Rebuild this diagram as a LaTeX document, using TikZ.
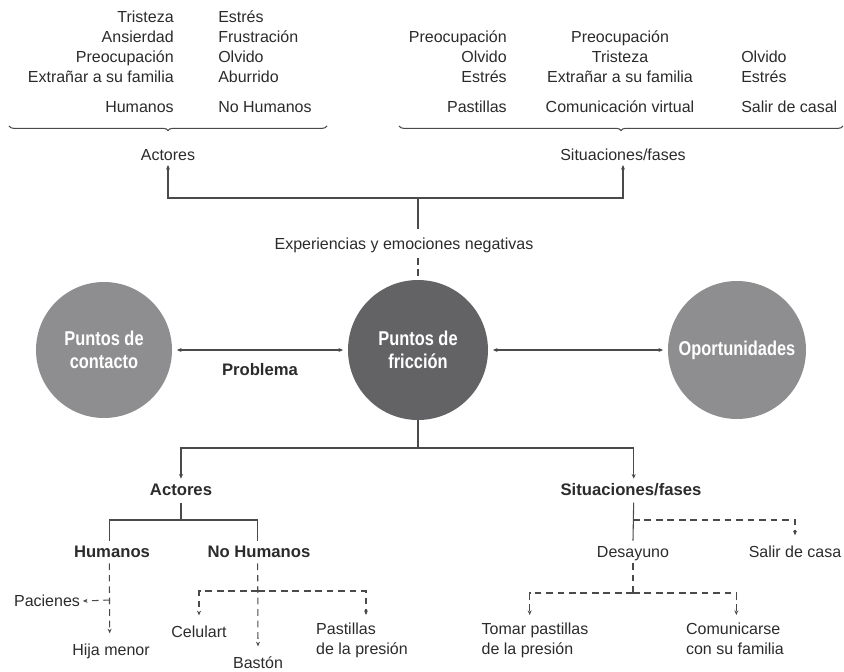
\documentclass[tikz,border=0pt]{standalone}
\usepackage{fontspec}
\setmainfont{Liberation Sans}
\newfontfamily\condbold[FakeStretch=0.82]{Liberation Sans Bold}
\usetikzlibrary{arrows.meta,decorations.pathreplacing}
\definecolor{tc}{HTML}{2B2B2B}
\definecolor{lc}{HTML}{4A4A4A}
\definecolor{darkc}{HTML}{636366}
\definecolor{lightc}{HTML}{8E8E90}
\tikzset{
  txt/.style={font=\fontsize{12}{15}\selectfont, text=tc, inner sep=0pt, text height=8.6pt, text depth=0pt},
  btxt/.style={txt, font=\fontsize{12.5}{15}\selectfont\bfseries},
  mtxt/.style={font=\fontsize{12}{15}\selectfont, text=tc, inner sep=0pt, align=left},
  ln/.style={draw=lc, line width=0.8pt},
  arr/.style={-{Stealth[length=3.5pt,width=3pt]}},
  darr/.style={{Stealth[length=3.5pt,width=3pt]}-{Stealth[length=3.5pt,width=3pt]}},
  dsh/.style={dash pattern=on 5pt off 3.6pt},
  bigc/.style={circle, draw=none, text=white, align=center, font=\fontsize{15}{17}\condbold, inner sep=0pt},
  brc/.style={ln, decorate, decoration={brace, amplitude=3.5pt}}
}
\begin{document}
\begin{tikzpicture}[x=0.75pt,y=-0.75pt]
\useasboundingbox (0,0) rectangle (844,672);
% ---------- top left group
\node[txt,anchor=east] (a1) at (174,17) {Tristeza};
\node[txt,anchor=east] (a2) at (174,37) {Ansierdad};
\node[txt,anchor=east] (a3) at (174,57) {Preocupación};
\node[txt,anchor=east] (a4) at (174,77) {Extrañar a su familia};
\node[txt,anchor=east] (ah) at (174,107) {Humanos};
\node[txt,anchor=west] (b1) at (218,17) {Estrés};
\node[txt,anchor=west] (b2) at (218,37) {Frustración};
\node[txt,anchor=west] (b3) at (218,57) {Olvido};
\node[txt,anchor=west] (b4) at (218,77) {Aburrido};
\node[txt,anchor=west] (bh) at (218,107) {No Humanos};
\coordinate (brL1) at (327,126);
\coordinate (brL2) at (9,126);
\draw[brc] (brL1) -- (brL2);
% ---------- top right group
\node[txt,anchor=east] (c1) at (507,37) {Preocupación};
\node[txt,anchor=east] (c2) at (507,57) {Olvido};
\node[txt,anchor=east] (c3) at (507,77) {Estrés};
\node[txt,anchor=east] (ch) at (507,107) {Pastillas};
\node[txt] (d1) at (620,37) {Preocupación};
\node[txt] (d2) at (620,57) {Tristeza};
\node[txt] (d3) at (620,77) {Extrañar a su familia};
\node[txt] (dh) at (620,107) {Comunicación virtual};
\node[txt,anchor=west] (e2) at (741,57) {Olvido};
\node[txt,anchor=west] (e3) at (741,77) {Estrés};
\node[txt,anchor=west] (eh) at (741,107) {Salir de casal};
\coordinate (brR1) at (843,126);
\coordinate (brR2) at (399,126);
\draw[brc] (brR1) -- (brR2);
% ---------- upper connectors
\node[txt] (act1) at (168,155) {Actores};
\node[txt] (sit1) at (623,155) {Situaciones/fases};
\node[txt] (exp) at (404,244) {Experiencias y emociones negativas};
\coordinate (j1) at (418,198);
\draw[ln] ([yshift=7pt]j1 |- exp.north) -- (j1);
\draw[ln,arr] (j1) -| ([yshift=-3pt]act1.south);
\draw[ln,arr] (j1) -| ([yshift=-3pt]sit1.south);
% ---------- circles
\node[bigc, fill=lightc, minimum size=102pt] (pc) at (104,350) {Puntos de\\contacto};
\node[bigc, fill=darkc, minimum size=105pt] (fric) at (418,350) {Puntos de\\fricción};
\node[bigc, fill=lightc, minimum size=103.5pt] (op) at (737,350) {Oportunidades};
\draw[ln,dsh] ([yshift=-6pt]j1 |- exp.south) -- (fric.north);
\draw[ln,darr,shorten <=3.5pt,shorten >=3.5pt] (pc.east) -- (fric.west);
\draw[ln,darr,shorten <=3.5pt,shorten >=3.5pt] (fric.east) -- (op.west);
\node[btxt] (prob) at (260,370) {Problema};
% ---------- lower tree
\node[btxt] (act2) at (181,490) {Actores};
\node[btxt] (sit2) at (631,490) {Situaciones/fases};
\coordinate (j2) at (418,448);
\draw[ln] (fric.south) -- (j2);
\draw[ln,arr] (j2) -| ([yshift=4pt]act2.north);
\draw[ln,arr] (j2) -| ([xshift=2pt,yshift=4pt]sit2.north);
% actores branch
\node[btxt] (hum) at (112,552) {Humanos};
\node[btxt] (nohum) at (259,552) {No Humanos};
\coordinate (j3) at (181,520);
\draw[ln] ([yshift=-5pt]act2.south) -- (j3);
\draw[ln] (j3) -| ([xshift=-2pt,yshift=4pt]hum.north);
\draw[ln] (j3) -| ([xshift=-1pt,yshift=4pt]nohum.north);
\node[txt] (hija) at (111,650) {Hija menor};
\node[txt] (pac) at (47,601) {Pacienes};
\coordinate (hd) at (110,600);
\draw[ln,dsh,arr] ([xshift=-2pt,yshift=-4pt]hum.south) -- ([xshift=-1pt,yshift=8pt]hija.north);
\draw[ln,dsh,arr] (hd) -- ([xshift=2pt]pac.east);
\node[txt] (cel) at (199,632) {Celulart};
\node[txt] (bast) at (258,663) {Bastón};
\node[mtxt,anchor=north] (pas) at (362,623) {Pastillas\\de la presión};
\coordinate (nd) at (258,591);
\draw[ln,dsh,arr] ([xshift=-1pt,yshift=-4pt]nohum.south) -- ([yshift=8pt]bast.north);
\draw[ln,dsh,arr] (nd) -| ([yshift=8pt]cel.north);
\draw[ln,dsh,arr] (nd) -| ([xshift=3pt,yshift=6pt]pas.north);
% situaciones branch
\node[txt] (des) at (633,552) {Desayuno};
\node[txt] (salir) at (795,552) {Salir de casa};
\coordinate (j4) at (633,520);
\draw[ln] ([xshift=2pt,yshift=-5pt]sit2.south) -- ([yshift=4pt]des.north);
\draw[ln,dsh,arr] (j4) -| ([yshift=8pt]salir.north);
\node[mtxt,anchor=north] (tomar) at (535,623) {Tomar pastillas\\de la presión};
\node[mtxt,anchor=north] (comu) at (735,623) {Comunicarse\\con su familia};
\coordinate (j5) at (633,593);
\draw[ln,dsh] ([yshift=-4pt]des.south) -- (j5);
\draw[ln,dsh,arr] (j5) -| ([xshift=-4pt,yshift=6pt]tomar.north);
\draw[ln,dsh,arr] (j5) -| ([xshift=1pt,yshift=6pt]comu.north);
\end{tikzpicture}
\end{document}
